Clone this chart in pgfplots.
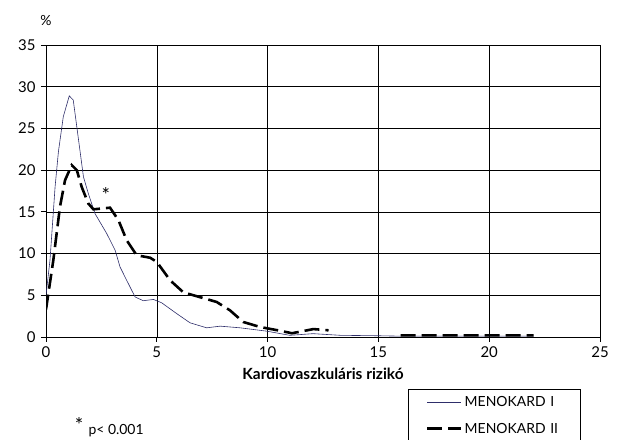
\documentclass[border=0pt]{standalone}
\usepackage{fontspec}
\setmainfont{Lato}
\usepackage{pgfplots}
\pgfplotsset{compat=1.18}

\definecolor{navyline}{HTML}{2E2E6A}

\begin{document}
\begin{tikzpicture}
\begin{axis}[
    scale only axis,
    width=554bp, height=292bp,
    at={(46bp,103bp)}, anchor=south west,
    xmin=0, xmax=25, ymin=0, ymax=35,
    xtick={0,5,...,25}, ytick={0,5,...,35},
    xtick pos=bottom, ytick pos=left,
    tick align=outside,
    major tick length=5bp,
    tick style={black, line width=0.8pt},
    grid=major,
    grid style={black, line width=0.6pt},
    axis line style={black, line width=1pt},
    /pgf/number format/assume math mode=true,
    tick label style={font=\fontsize{15}{17}\selectfont},
    xticklabel style={yshift=-1bp},
    yticklabel style={xshift=-2bp},
    xlabel={\bfseries Kardiovaszkuláris rizikó},
    xlabel style={at={(axis description cs:0.5,-0.127)}, anchor=center, font=\fontsize{15.5}{17}\selectfont},
    ylabel={\%},
    ylabel style={at={(axis description cs:0,1.083)}, anchor=center, rotate=-90, font=\fontsize{14}{16}\selectfont},
    unbounded coords=jump,
    legend cell align=left,
    legend image code/.code={\draw[#1] (0bp,0bp) -- (34bp,0bp);},
    legend style={at={(axis description cs:0.653,-0.178)}, anchor=north west,
        draw=black, line width=0.8pt, fill=white,
        font=\fontsize{14}{16}\selectfont,
        row sep=11bp, inner xsep=18bp, inner ysep=5bp,
        text width=96bp},
]

\addplot[navyline, line width=0.6pt]
    coordinates {(0,5) (0.18,9.2) (0.41,18) (0.56,22.2) (0.78,26.4) (1.05,28.9)
    (1.23,28.4) (1.41,24.8) (1.69,19.2) (1.91,17.2) (2.21,14.8) (2.74,12.4)
    (3.12,10.4) (3.34,8.4) (3.64,6.8) (4.02,4.8) (4.39,4.35) (4.85,4.5)
    (5.22,4.1) (5.9,2.8) (6.5,1.7) (7.25,1.1) (7.86,1.3) (8.76,1.1)
    (9.96,0.7) (11.0,0.2) (12.05,0.4) (13.3,0.2) (15,0.15) (16,0.1) (22,0.1)};
\addlegendentry{MENOKARD I}

\addplot[black, line width=2.6pt, dash pattern=on 15bp off 6bp]
    coordinates {(0,3.3) (0.33,9.2) (0.63,15.6) (0.86,18.8) (1.16,20.6)
    (1.39,20) (1.61,18) (1.91,16) (2.14,15.3) (2.89,15.5) (3.27,14)
    (3.64,11.6) (4.09,9.8) (4.7,9.5) (5,9.0) (5.6,6.8) (6.2,5.35)
    (7.7,4.2) (8.3,3.2) (8.9,1.8) (9.66,1.2) (10.56,0.75) (11.1,0.45)
    (12.07,0.95) (12.75,0.8) (14,nan) (16,0.2) (22,0.2)};
\addlegendentry{MENOKARD II}

\node[font=\fontsize{20}{20}\selectfont] at (axis cs:2.7,17.0) {*};
\end{axis}

\node[font=\fontsize{20}{20}\selectfont] at (79bp,15bp) {*};
\node[anchor=west, font=\fontsize{14}{16}\selectfont] at (85bp,9bp) {p< 0.001};

\pgfresetboundingbox
\useasboundingbox (0,0) rectangle (617bp,440bp);
\end{tikzpicture}
\end{document}
